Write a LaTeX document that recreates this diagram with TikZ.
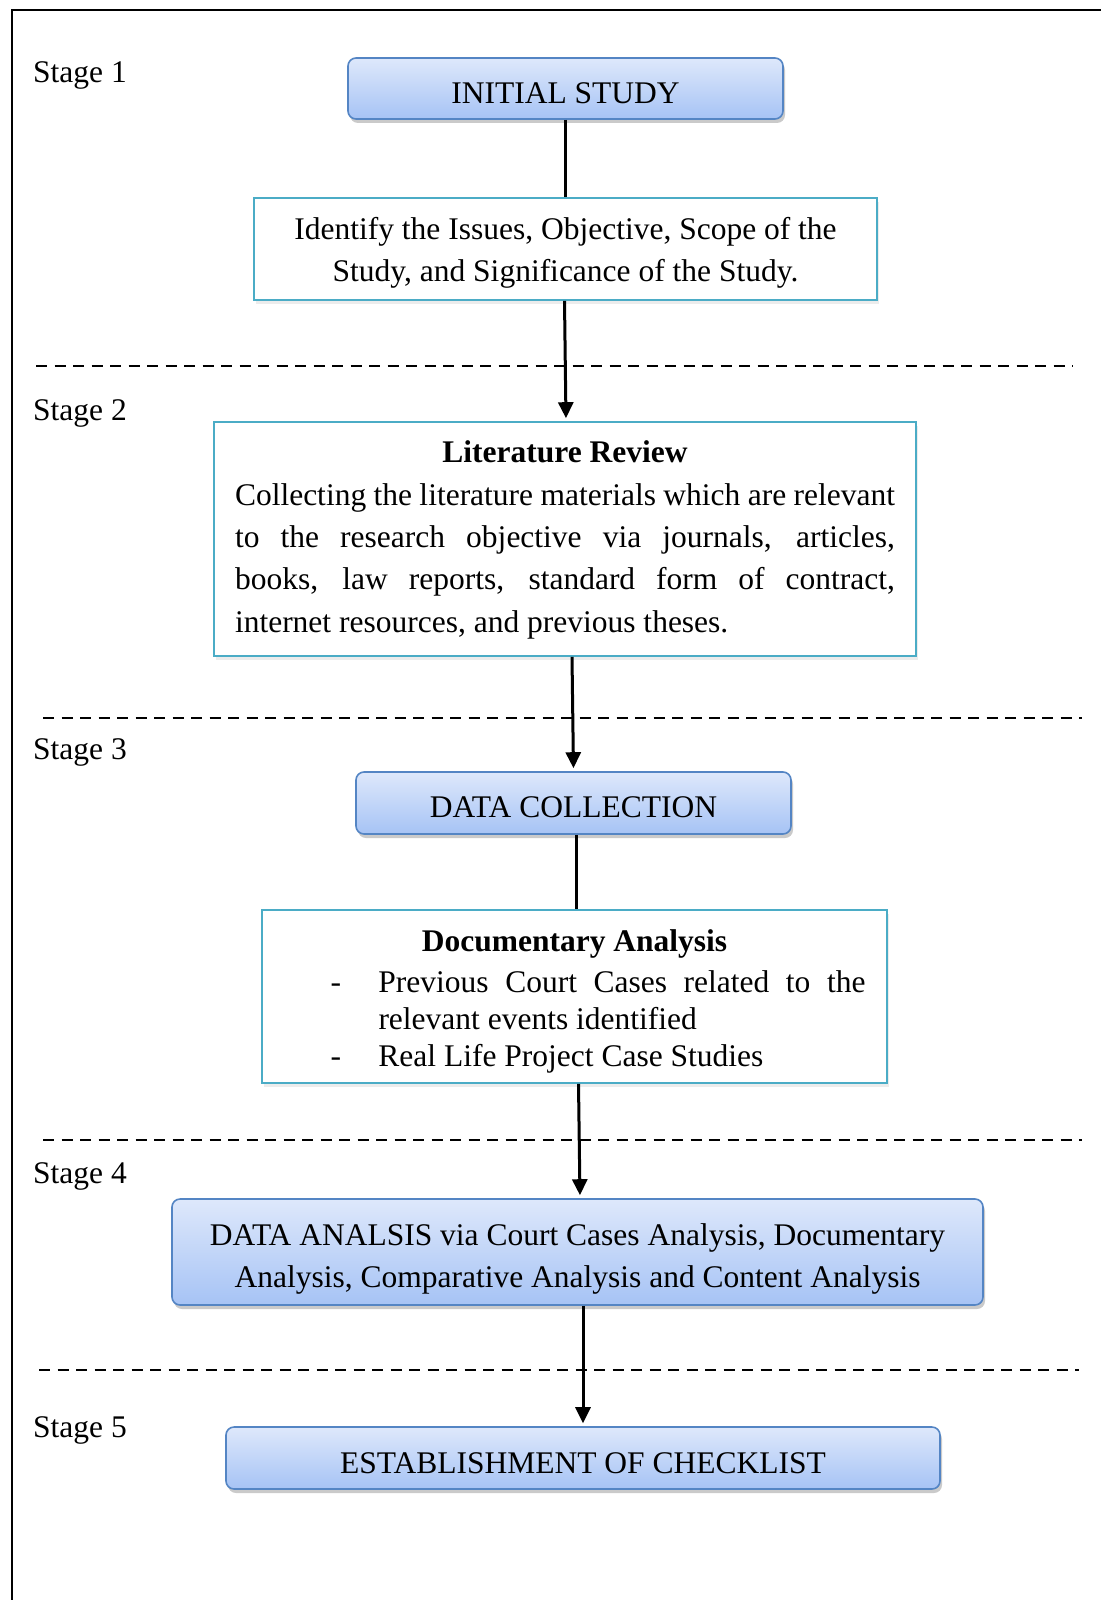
\documentclass[tikz,border=0pt]{standalone}
\usepackage{fontspec}
\setmainfont{Liberation Serif}
\usetikzlibrary{arrows.meta,shadows}
\definecolor{btop}{HTML}{DEE8FB}
\definecolor{bbot}{HTML}{A6C3F5}
\definecolor{bdraw}{HTML}{5485C4}
\definecolor{wdraw}{HTML}{4BACC6}
\tikzset{
  txt/.style={font=\fontsize{31.5pt}{42.3pt}\selectfont},
  bluebox/.style={draw=bdraw, line width=1.6pt, rounded corners=8pt,
    top color=btop, bottom color=bbot, inner sep=0pt,
    drop shadow={shadow xshift=2pt, shadow yshift=-4pt, opacity=0.35, fill=black!60}},
  whitebox/.style={draw=wdraw, line width=1.6pt, fill=white, inner sep=0pt,
    drop shadow={shadow xshift=2pt, shadow yshift=-4pt, opacity=0.15, fill=black!50}},
  boxtext/.style={txt, inner sep=0pt, align=center},
  stagelbl/.style={txt, anchor=west, inner sep=0pt},
  conn/.style={line width=3pt, draw=black},
  arr/.style={conn, -{Triangle[width=15pt,length=16pt]}, shorten >=3pt},
  divider/.style={line width=2pt, dash pattern=on 11pt off 7.5pt},
}
\begin{document}
\begin{tikzpicture}[x=1pt,y=-1pt]
\useasboundingbox (0,0) rectangle (1100,1600);
% outer frame
\draw[line width=2.5pt] (12,1610) -- (12,10) -- (1110,10);
% dividers
\draw[divider] (36,366) -- (1073,366);
\draw[divider] (43,718) -- (1082,718);
\draw[divider] (43,1140) -- (1082,1140);
\draw[divider] (39,1370) -- (1079,1370);
% stage labels
\node[stagelbl] (st1) at (33,75) {Stage 1};
\node[stagelbl] (st2) at (33,413) {Stage 2};
\node[stagelbl] (st3) at (33,752) {Stage 3};
\node[stagelbl] (st4) at (33,1176) {Stage 4};
\node[stagelbl] (st5) at (33,1430) {Stage 5};
% boxes
\node[bluebox, minimum width=435pt, minimum height=61pt] (init) at (565.5,88.5) {};
\node[boxtext, yshift=-5pt] (init-t) at (init.center) {INITIAL STUDY};

\node[whitebox, minimum width=623pt, minimum height=102pt] (ident) at (565.5,249) {};
\node[boxtext, yshift=-4pt] (ident-t) at (ident.center)
  {Identify the Issues, Objective, Scope of the\\Study, and Significance of the Study.};

\node[whitebox, minimum width=702pt, minimum height=234pt] (lit) at (565,539) {};
\node[boxtext, yshift=-1pt] (lit-t) at (lit.center)
  {\textbf{Literature Review}\\
   \hbox to 660pt{Collecting the literature materials which are relevant}\\
   \hbox to 660pt{to the research objective via journals, articles,}\\
   \hbox to 660pt{books, law reports, standard form of contract,}\\
   \hbox to 660pt{internet resources, and previous theses.\hfil}};

\node[bluebox, minimum width=435pt, minimum height=62pt] (dc) at (573.5,803) {};
\node[boxtext, yshift=-4pt] (dc-t) at (dc.center) {DATA COLLECTION};

\node[whitebox, minimum width=625pt, minimum height=173pt] (doc) at (574.5,996.5) {};
\node[boxtext, align=left, font=\fontsize{31.5pt}{37pt}\selectfont, yshift=-5pt] (doc-t) at (doc.center)
  {\hbox to 582pt{\hfil\textbf{Documentary Analysis}\hfil}\\[4pt]
   \hbox to 582pt{\hspace*{47pt}\makebox[48pt][l]{-}\hbox to 487pt{Previous Court Cases related to the}}\\
   \hbox to 582pt{\hspace*{95pt}relevant events identified\hfil}\\
   \hbox to 582pt{\hspace*{47pt}\makebox[48pt][l]{-}Real Life Project Case Studies\hfil}};

\node[bluebox, minimum width=811pt, minimum height=106pt] (da) at (577.5,1252) {};
\node[boxtext, yshift=-7pt] (da-t) at (da.center)
  {DATA ANALSIS via Court Cases Analysis, Documentary\\Analysis, Comparative Analysis and Content Analysis};

\node[bluebox, minimum width=714pt, minimum height=62pt] (ec) at (583,1458) {};
\node[boxtext, yshift=-5pt] (ec-t) at (ec.center) {ESTABLISHMENT OF CHECKLIST};
% connectors
\draw[conn] (init.south) -- (ident.north);
\draw[arr] ([xshift=-1pt]ident.south) -- ([xshift=1pt]lit.north);
\draw[arr] ([xshift=7pt]lit.south) -- (dc.north);
\draw[conn] ([xshift=3pt]dc.south) -- ([xshift=2pt]doc.north);
\draw[arr] ([xshift=4pt]doc.south) -- ([xshift=2.5pt]da.north);
\draw[arr] ([xshift=5.5pt]da.south) -- (ec.north);
\end{tikzpicture}
\end{document}
